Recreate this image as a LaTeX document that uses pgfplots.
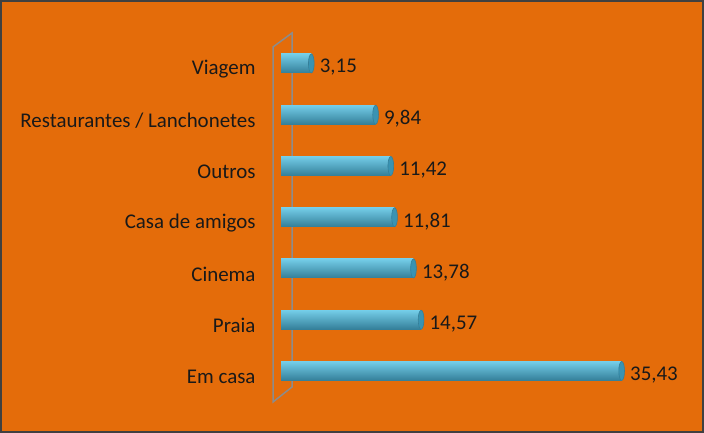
\documentclass[border=0pt]{standalone}
\usepackage{pgfplots}
\pgfplotsset{compat=1.18}
\usepackage{fontspec}
\setmainfont{Carlito}
\definecolor{bgor}{HTML}{E46C0A}
\definecolor{bartop}{HTML}{74CDE8}
\definecolor{barmid}{HTML}{4DB8D8}
\definecolor{barbot}{HTML}{347F99}
\definecolor{capblue}{HTML}{3A93B2}
\definecolor{wallgray}{HTML}{8C8C8C}
\pgfplotsset{cyl/.style={xbar, bar width=19bp, bar shift=0pt, draw=none,
  top color=bartop, middle color=barmid, bottom color=barbot,
  nodes near coords={\pgfmathprintnumber[fixed, fixed zerofill, precision=2, use comma]{\pgfplotspointmeta}},
  point meta=x,
  every node near coord/.append style={anchor=west, xshift=5bp, yshift=-4bp, font=\fontsize{21}{24}\selectfont, text=black!90}}}
\begin{document}
\begin{tikzpicture}[x=1bp,y=1bp]
\fill[bgor] (0,0) rectangle (704,433);
\draw[wallgray, line width=1.5bp] (273,31) -- (273,386) -- (292,400) -- (292,46) -- cycle;
\begin{axis}[
  at={(281bp,36.4bp)}, anchor=south west, scale only axis,
  width=399bp, height=358.75bp,
  xmin=0, xmax=41.5, ymin=-0.5, ymax=6.5,
  axis line style={draw=none}, tick style={draw=none},
  xtick=\empty,
  ytick={0,1,2,3,4,5,6},
  yticklabels={Em casa, Praia, Cinema, Casa de amigos, Outros, Restaurantes / Lanchonetes, Viagem},
  yticklabel style={font=\fontsize{21}{24}\selectfont, text=black!90, anchor=east, xshift=-22bp, yshift=-6bp},
  /pgf/number format/assume math mode=true,
  clip=false,
]
\addplot[cyl] coordinates {(35.43,0)};
\addplot[cyl] coordinates {(14.57,1)};
\addplot[cyl] coordinates {(13.78,2)};
\addplot[cyl] coordinates {(11.81,3)};
\addplot[cyl] coordinates {(11.42,4)};
\addplot[cyl] coordinates {(9.84,5)};
\addplot[cyl] coordinates {(3.15,6)};
\addplot[only marks, mark=*, mark size=9.5bp, mark options={xscale=0.3, fill=capblue, draw=barbot, line width=0.6bp}]
coordinates {(35.43,0) (14.57,1) (13.78,2) (11.81,3) (11.42,4) (9.84,5) (3.15,6)};
\end{axis}
\draw[black!75, line width=2bp] (1,1) rectangle (703,432);
\end{tikzpicture}
\end{document}
